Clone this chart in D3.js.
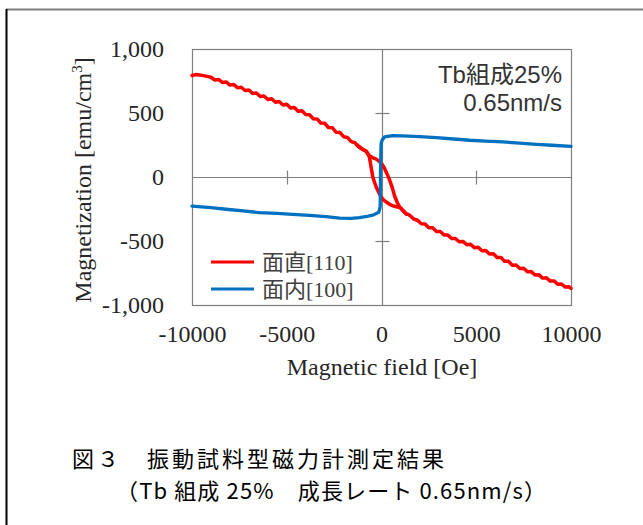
<!DOCTYPE html>
<html>
<head>
<meta charset="utf-8">
<script src="https://cdn.jsdelivr.net/npm/d3@7"></script>
<style>
  body { margin: 0; background: #fff; }
  svg { display: block; }
</style>
</head>
<body>
<svg id="chart" width="643" height="525"></svg>
<script>
// --- data (H in Oe, M in emu/cm3) ---
// perpendicular [110], sweep from -H to +H (upper branch near 0)
let redUpH = [-10000, -9800, -9600, -9400, -9200, -9000, -8800, -8600, -8400, -8200, -8000, -7800, -7600, -7400, -7200, -7000, -6800, -6600, -6400, -6200, -6000, -5800, -5600, -5400, -5200, -5000, -4800, -4600, -4400, -4200, -4000, -3800, -3600, -3400, -3200, -3000, -2800, -2600, -2400, -2200, -2000, -1800, -1600, -1400, -1200,
    -1000, -800, -650, -450, -300, -150, 0, 150, 300, 420, 550, 700, 850, 950, 1100, 1300,
    1500, 1700, 1900, 2100, 2300, 2500, 2700, 2900, 3100, 3300, 3500, 3700, 3900, 4100, 4300, 4500, 4700, 4900, 5100, 5300, 5500, 5700, 5900, 6100, 6300, 6500, 6700, 6900, 7100, 7300, 7500, 7700, 7900, 8100, 8300, 8500, 8700, 8900, 9100, 9300, 9500, 9700, 9900, 10000];
let redUpM = [793, 800, 797, 792, 786, 779, 758, 762, 739, 743, 718, 722, 698, 701, 676, 680, 652, 657, 629, 633, 606, 611, 584, 590, 563, 569, 539, 543, 514, 517, 488, 486, 455, 454, 421, 420, 387, 385, 350, 348, 315, 309, 276, 268, 236,
    215, 200, 168, 150, 142, 126, 105, 70, 22, -20, -75, -152, -205, -232, -258, -285,
    -300, -328, -338, -366, -368, -396, -397, -425, -426, -453, -454, -481, -480, -506, -503, -529, -526, -552, -549, -576, -574, -602, -600, -629, -628, -659, -658, -689, -687, -715, -713, -741, -739, -766, -763, -790, -787, -813, -812, -837, -836, -860, -858, -870];
// perpendicular [110], sweep from +H to -H (lower branch near 0)
let redDownH = [1300, 1000, 690, 450, 250, 100, -20, -150, -280, -380, -460, -550, -640, -800, -1000, -1300];
let redDownM = [-290, -240, -229, -215, -195, -178, -156, -120, -78, -35, 0, 78, 156, 200, 218, 250];
// in-plane [100]
let blueH = [-10000, -9000, -8200, -7300, -6450, -5500, -4700, -3800, -2930, -2200, -1600, -1160, -700, -450, -140, -70, -55, -45, -20, 40, 160, 600, 1130, 2000, 2890, 3800, 4650, 5500, 6400, 7300, 8180, 9000, 10000];
let blueM = [-227, -240, -252, -265, -278, -284, -292, -300, -310, -322, -323, -318, -306, -298, -275, -234, 0, 104, 261, 290, 313, 324, 322, 316, 308, 297, 287, 280, 274, 264, 255, 248, 240];

let xTicks = [-10000, -5000, 0, 5000, 10000];
let xTickLabels = ["-10000", "-5000", "0", "5000", "10000"];
let yTicks = [-1000, -500, 0, 500, 1000];
let yTickLabels = ["-1,000", "-500", "0", "500", "1,000"];
let crossXTicks = [-5000, 5000];
let crossYTicks = [-500, 500];

let seriesNames = ["面直[110]", "面内[100]"];
let colors = ["#ff0000", "#0070c0"];
let noteLines = ["Tb組成25%", "0.65nm/s"];
let captionLines = ["図３　振動試料型磁力計測定結果", "（Tb 組成 25%　成長レート 0.65nm/s）"];

// --- layout ---
let svg = d3.select("#chart");
let plotL = 192, plotR = 571, plotT = 49, plotB = 305;
let serif = "'Liberation Serif', 'Times New Roman', 'Noto Sans CJK JP', serif";
let sans = "'Liberation Sans', Arial, 'Noto Sans CJK JP', sans-serif";
let cjk = "'Noto Sans CJK JP', sans-serif";

let x = d3.scaleLinear().domain([-10000, 10000]).range([plotL, plotR]);
let y = d3.scaleLinear().domain([-1000, 1000]).range([plotB, plotT]);

// outer frame (only top and left visible in the picture)
svg.append("line").attr("x1", 6).attr("x2", 643).attr("y1", 9.5).attr("y2", 9.5)
    .attr("stroke", "#7f7f7f").attr("stroke-width", 2);
svg.append("line").attr("x1", 6.5).attr("x2", 6.5).attr("y1", 9).attr("y2", 525)
    .attr("stroke", "#000").attr("stroke-width", 2);

// plot border
svg.append("rect")
    .attr("x", plotL + 0.5).attr("y", plotT + 0.5)
    .attr("width", plotR - plotL).attr("height", plotB - plotT)
    .attr("fill", "none").attr("stroke", "#7f7f7f").attr("stroke-width", 1.2);

// zero lines + crossing ticks
let zx = Math.round(x(0)) + 0.5, zy = Math.round(y(0)) + 0.5;
svg.append("line").attr("x1", plotL).attr("x2", plotR).attr("y1", zy).attr("y2", zy)
    .attr("stroke", "#7f7f7f").attr("stroke-width", 1.2);
svg.append("line").attr("x1", zx).attr("x2", zx).attr("y1", plotT).attr("y2", plotB)
    .attr("stroke", "#7f7f7f").attr("stroke-width", 1.2);

svg.selectAll(".xcross").data(crossXTicks).enter().append("line")
    .attr("x1", d => Math.round(x(d)) + 0.5).attr("x2", d => Math.round(x(d)) + 0.5)
    .attr("y1", zy - 7).attr("y2", zy + 7)
    .attr("stroke", "#7f7f7f").attr("stroke-width", 1.2);
svg.selectAll(".ycross").data(crossYTicks).enter().append("line")
    .attr("x1", zx - 7).attr("x2", zx + 7)
    .attr("y1", d => Math.round(y(d)) + 0.5).attr("y2", d => Math.round(y(d)) + 0.5)
    .attr("stroke", "#7f7f7f").attr("stroke-width", 1.2);

// axes (labels only)
let xAxis = svg.append("g")
    .attr("transform", `translate(0,${plotB})`)
    .call(d3.axisBottom(x).tickValues(xTicks).tickSize(0).tickPadding(20)
        .tickFormat((d, i) => xTickLabels[i]));
let yAxis = svg.append("g")
    .attr("transform", `translate(${plotL},0)`)
    .call(d3.axisLeft(y).tickValues(yTicks).tickSize(0).tickPadding(28)
        .tickFormat((d, i) => yTickLabels[i]));
[xAxis, yAxis].forEach(g => {
    g.select(".domain").remove();
    g.selectAll("text").attr("font-family", serif).attr("font-size", "24px").attr("fill", "#262626");
});

// axis titles
svg.append("text")
    .attr("x", 382).attr("y", 375)
    .attr("text-anchor", "middle")
    .attr("font-family", serif).attr("font-size", "24px").attr("fill", "#262626")
    .text("Magnetic field [Oe]");

let yTitle = svg.append("text")
    .attr("transform", "translate(91,180) rotate(-90)")
    .attr("text-anchor", "middle")
    .attr("font-family", serif).attr("font-size", "24px").attr("fill", "#262626");
yTitle.append("tspan").text("Magnetization [emu/cm");
yTitle.append("tspan").attr("font-size", "15px").attr("dy", "-9").text("3");
yTitle.append("tspan").attr("dy", "9").text("]");

// curves
let line = d3.line().x(d => x(d[0])).y(d => y(d[1]));
let redUp = redUpH.map((h, i) => [h, redUpM[i]]);
let redDown = redDownH.map((h, i) => [h, redDownM[i]]);
let blue = blueH.map((h, i) => [h, blueM[i]]);

let plot = svg.append("g");
[redUp, redDown].forEach(pts => {
    plot.append("path").attr("d", line(pts))
        .attr("fill", "none").attr("stroke", colors[0]).attr("stroke-width", 3.5)
        .attr("stroke-linejoin", "round").attr("stroke-linecap", "round");
});
plot.append("path").attr("d", line(blue))
    .attr("fill", "none").attr("stroke", colors[1]).attr("stroke-width", 3.3)
    .attr("stroke-linejoin", "round").attr("stroke-linecap", "round");

// annotation
svg.selectAll(".note").data(noteLines).enter().append("text")
    .attr("x", 562).attr("y", (d, i) => 83 + i * 28)
    .attr("text-anchor", "end")
    .attr("font-family", sans).attr("font-size", "24px").attr("fill", "#333")
    .text(d => d);

// legend
let legend = svg.append("g").attr("transform", "translate(211,262)");
seriesNames.forEach((name, i) => {
    let row = legend.append("g").attr("transform", `translate(0,${i * 27})`);
    row.append("line").attr("x1", 0).attr("x2", 43).attr("y1", 0).attr("y2", 0)
        .attr("stroke", colors[i]).attr("stroke-width", 3.2);
    row.append("text").attr("x", 51).attr("y", 8)
        .attr("font-family", serif).attr("font-size", "22px").attr("fill", "#404040")
        .text(name);
});

// caption
svg.append("text")
    .attr("x", 72).attr("y", 467)
    .attr("font-family", cjk).attr("font-size", "22px").attr("fill", "#000")
    .attr("textLength", 372).attr("lengthAdjust", "spacing")
    .text(captionLines[0]);
svg.append("text")
    .attr("x", 116).attr("y", 499)
    .attr("font-family", cjk).attr("font-size", "22px").attr("fill", "#000")
    .attr("textLength", 430).attr("lengthAdjust", "spacing")
    .text(captionLines[1]);
</script>
</body>
</html>
